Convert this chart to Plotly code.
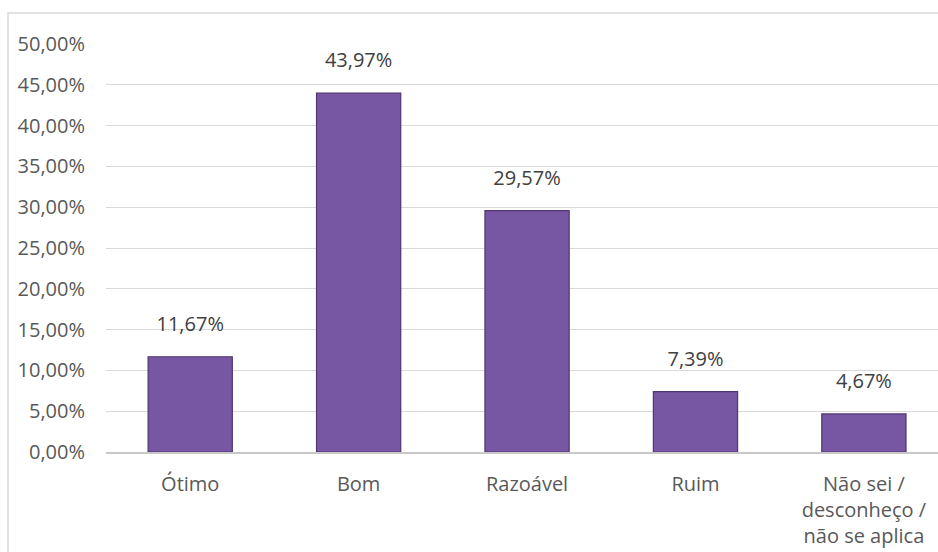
import plotly.graph_objects as go

categories = ["Ótimo", "Bom", "Razoável", "Ruim", "Não sei /<br>desconheço /<br>não se aplica"]
values = [0.1167, 0.4397, 0.2957, 0.0739, 0.0467]
tick_vals = [0, 0.05, 0.10, 0.15, 0.20, 0.25, 0.30, 0.35, 0.40, 0.45, 0.50]

W, H = 938, 552
L, R, T, B = 106, 0, 44, 100
pw, ph = W - L - R, H - T - B
FONT = "Open Sans"

fig = go.Figure()
fig.add_trace(go.Bar(
    x=categories, y=values, width=0.5,
    marker=dict(color="#7757a3", line=dict(color="#4f3670", width=1.2)),
    hoverinfo="skip",
))
fig.add_trace(go.Scatter(
    x=categories, y=values, mode="text+markers",
    marker=dict(size=32, opacity=0),
    texttemplate="%{y:.2%}", textposition="top center",
    textfont=dict(size=20, color="#404040", family=FONT),
    cliponaxis=False, hoverinfo="skip",
))

fig.update_layout(
    width=W, height=H, separators=",.",
    margin=dict(l=L, r=R, t=T, b=B, autoexpand=False),
    paper_bgcolor="white", plot_bgcolor="white",
    font=dict(family=FONT, size=20, color="#595959"),
    showlegend=False,
    xaxis=dict(range=[-0.5, 4.44], showgrid=False, showline=True,
               linecolor="#c8c8c8", linewidth=1.5, ticks="", ticklabelstandoff=13,
               tickfont=dict(size=20, color="#595959", family=FONT)),
    yaxis=dict(range=[0, 0.5], tickvals=tick_vals, tickformat=".2%",
               showgrid=True, gridcolor="#d9d9d9", gridwidth=1, zeroline=False,
               ticklabelstandoff=20, tickfont=dict(size=20, color="#595959", family=FONT)),
    shapes=[dict(type="rect", xref="paper", yref="paper",
                 x0=(8 - L) / pw, x1=1.2, y0=-0.5, y1=1 + (T - 13) / ph,
                 line=dict(color="#d9d9d9", width=1.5), fillcolor="rgba(0,0,0,0)", layer="below")],
)

fig.write_html("out.html", config={"displayModeBar": False},
               post_script="document.body.style.margin='0';document.body.style.overflow='hidden';")
